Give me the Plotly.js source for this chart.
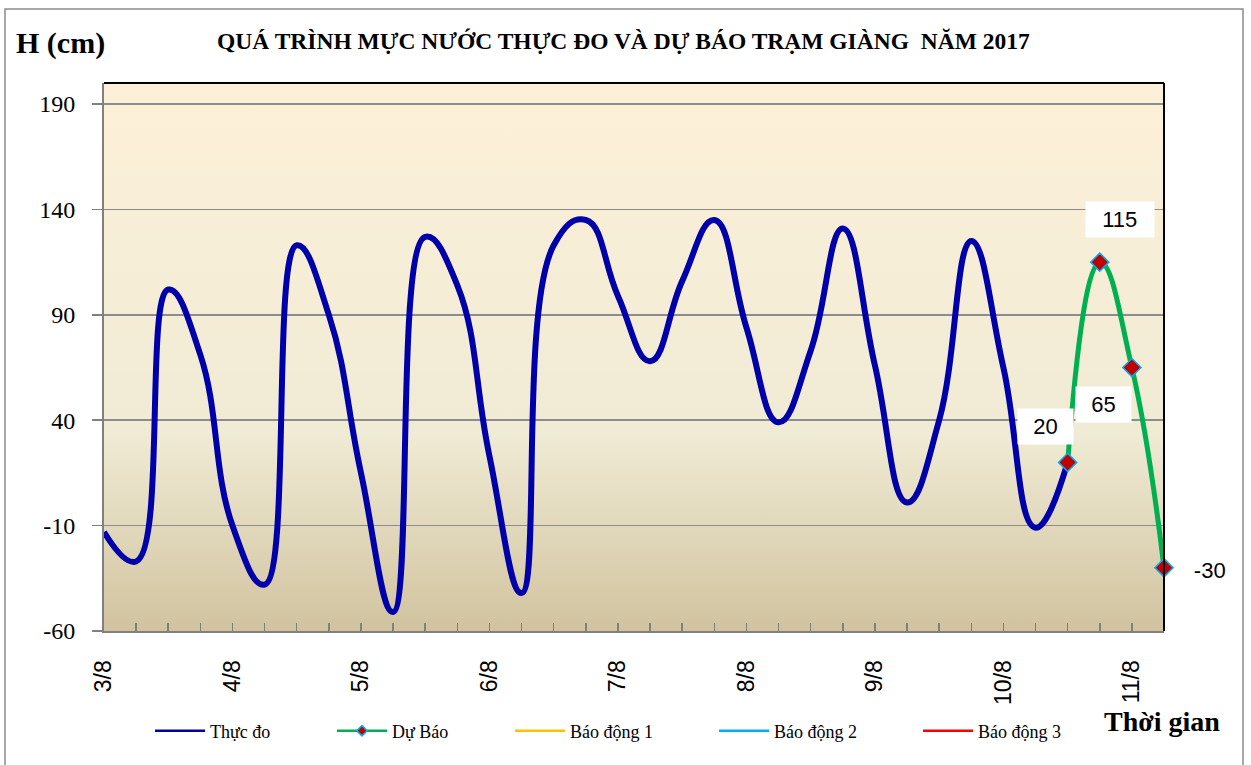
<!DOCTYPE html>
<html>
<head>
<meta charset="utf-8">
<script src="https://cdn.plot.ly/plotly-3.0.1.min.js"></script>
<style>html,body{margin:0;padding:0;background:#fff;}#chart{width:1251px;height:765px;}</style>
</head>
<body>
<div id="chart"></div>
<script>
// ---- data (6-hourly water level, cm) ----
const dayLabels = ['3/8','4/8','5/8','6/8','7/8','8/8','9/8','10/8','11/8'];
const pointsPerDay = 4;
const observedLevels = [-13,-27,102,71,-10,-38,123,90,15,-51,127,104,23,-42,123,135,99,68,106,135,84,39,73,131,66,1,40,125,65,-11,20];
const forecastLevels = [20,115,65,-30];
const yTickValues = [-60,-10,40,90,140,190];
const seriesNames = ['Thực đo','Dự Báo','Báo động 1','Báo động 2','Báo động 3'];
const seriesColors = ['#0000AA','#00B050','#FFC000','#00B0F0','#FF0000'];
const titleText = 'QUÁ TRÌNH MỰC NƯỚC THỰC ĐO VÀ DỰ BÁO TRẠM GIÀNG\u00a0 NĂM 2017';
const yTitle = 'H (cm)';
const xTitle = 'Thời gian';

// ---- geometry helpers (pixel layout) ----
const W = 1251, H = 765;
const M = {l:104, r:87, t:83, b:134};
const PW = W - M.l - M.r, PH = H - M.t - M.b;
const px = x => (x - M.l) / PW;
const py = y => (H - M.b - y) / PH;

const obsX = observedLevels.map((v,i)=>i);
const fcStart = observedLevels.length - 1;
const fcX = forecastLevels.map((v,i)=>fcStart + i);
const lastX = fcX[fcX.length-1];

const SERIF = 'Liberation Serif';
const SANS = 'Liberation Sans';

const bgSvg = "<svg xmlns='http://www.w3.org/2000/svg' width='100' height='100' preserveAspectRatio='none'><defs><linearGradient id='g' x1='0' y1='0' x2='0' y2='1'><stop offset='0' stop-color='#FDF0D8'/><stop offset='0.64' stop-color='#F0EBD5'/><stop offset='1' stop-color='#D1C39F'/></linearGradient></defs><rect width='100' height='100' fill='url(#g)'/></svg>";

const traces = [
  {x: obsX, y: observedLevels, type:'scatter', mode:'lines', line:{color:seriesColors[0], width:6, shape:'spline', smoothing:1.3}, showlegend:false, hoverinfo:'skip'},
  {x: fcX, y: forecastLevels, type:'scatter', mode:'lines+markers', line:{color:seriesColors[1], width:5, shape:'spline', smoothing:1.3},
   marker:{symbol:'diamond', size:14, color:'#C00000', line:{color:'#00B0F0', width:1.5}}, cliponaxis:false, showlegend:false, hoverinfo:'skip'}
];
// legend entries (no visible data), one legend box each
const legendIds = ['legend','legend2','legend3','legend4','legend5'];
seriesNames.forEach((n,i)=>{
  const t = {x:[null], y:[null], type:'scatter', mode: i===1 ? 'lines+markers' : 'lines', name:n,
             line:{color:seriesColors[i], width:2.5}, legend: legendIds[i], hoverinfo:'skip'};
  if(i===1) t.marker = {symbol:'diamond', size:8, color:'#C00000', line:{color:'#00B0F0', width:1.5}};
  traces.push(t);
});

// data labels for forecast points (pixel offsets)
const lblShift = [[-22,36],[20,43],[-28,-37],[46,-3]];
const annotations = forecastLevels.map((v,i)=>({
  x: fcX[i], y: v, xref:'x', yref:'y', text: String(v), showarrow:false,
  xshift: lblShift[i][0], yshift: lblShift[i][1],
  font:{family:SANS, size:22, color:'#000'},
  bgcolor: i===3 ? 'rgba(0,0,0,0)' : '#ffffff', borderpad:5,
  width: String(v).length*12.5 + 20
}));
annotations.push(
  {xref:'paper', yref:'paper', x:px(623), y:py(41), text:'<b>'+titleText+'</b>', showarrow:false, xanchor:'center', yanchor:'middle',
   font:{family:SERIF, size:23.5, color:'#000'}},
  {xref:'paper', yref:'paper', x:px(60), y:py(43), text:'<b>'+yTitle+'</b>', showarrow:false, xanchor:'center', yanchor:'middle',
   font:{family:SERIF, size:30, color:'#000'}},
  {xref:'paper', yref:'paper', x:px(1162), y:py(721), text:'<b>'+xTitle+'</b>', showarrow:false, xanchor:'center', yanchor:'middle',
   font:{family:SERIF, size:28, color:'#000'}}
);

const legendStarts = [156, 338, 516, 720, 924];

const layout = {
  width:W, height:H, margin:M,
  paper_bgcolor:'#ffffff', plot_bgcolor:'rgba(0,0,0,0)',
  showlegend:true,
  xaxis:{range:[0,lastX], tickmode:'array', tickvals: dayLabels.map((d,i)=>i*pointsPerDay), ticktext: dayLabels,
         tickangle:-90, ticks:'inside', ticklen:8, tickwidth:1.5, tickcolor:'#808080',
         minor:{dtick:1, ticks:'inside', ticklen:8, tickwidth:1.5, tickcolor:'#808080', showgrid:false},
         showgrid:false, zeroline:false, showline:true, linecolor:'#808080', linewidth:2,
         tickfont:{family:SANS, size:23, color:'#000'}, ticklabelstandoff:18, fixedrange:true},
  yaxis:{range:[-60,200], tickmode:'array', tickvals:yTickValues, ticktext:yTickValues.map(v=>String(v)),
         ticks:'outside', ticklen:10, tickwidth:1.5, tickcolor:'#808080',
         showgrid:true, gridcolor:'#8C8C8C', gridwidth:1.5, zeroline:false, showline:true, linecolor:'#808080', linewidth:2,
         tickfont:{family:SERIF, size:24, color:'#000'}, ticklabelstandoff:12, fixedrange:true},
  images:[{source:'data:image/svg+xml;base64,'+btoa(bgSvg), xref:'paper', yref:'paper', x:0, y:1, sizex:1, sizey:1,
           sizing:'stretch', layer:'below', xanchor:'left', yanchor:'top'}],
  shapes:[
    {type:'line', xref:'paper', yref:'paper', x0:0, x1:1, y0:1, y1:1, line:{color:'#000', width:2}},
    {type:'line', xref:'paper', yref:'paper', x0:1, x1:1, y0:0, y1:1, line:{color:'#000', width:2}},
    {type:'rect', xref:'paper', yref:'paper', x0:px(5), x1:px(1243), y0:py(9), y1:py(775), line:{color:'#8C8C8C', width:1.5}, fillcolor:'rgba(0,0,0,0)'}
  ],
  annotations: annotations
};
legendIds.forEach((id,i)=>{
  layout[id] = {orientation:'h', x:px(legendStarts[i]-6), y:py(731), xanchor:'left', yanchor:'middle', itemwidth:50,
                font:{family:SERIF, size:18, color:'#000'}, bgcolor:'rgba(0,0,0,0)'};
});

Plotly.newPlot('chart', traces, layout, {displayModeBar:false, staticPlot:true});
</script>
</body>
</html>
